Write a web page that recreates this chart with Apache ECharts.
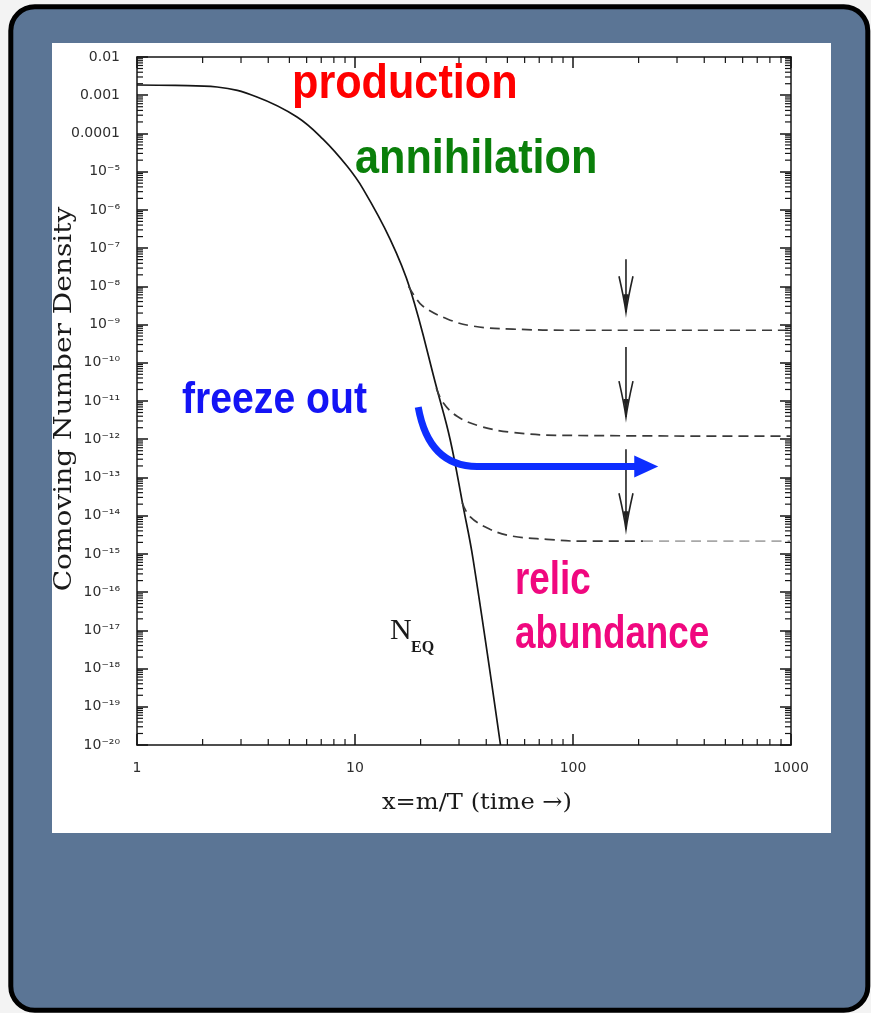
<!DOCTYPE html>
<html>
<head>
<meta charset="utf-8">
<script src="https://cdn.jsdelivr.net/npm/echarts@6.0.0/dist/echarts.min.js"></script>
<style>
  html, body { margin: 0; padding: 0; background: #f3f3f3; }
  #chart { width: 871px; height: 1013px; }
</style>
</head>
<body>
<div id="chart"></div>
<script>
// Equilibrium comoving number density N_EQ versus x = m/T
const eqX = [1, 1.5, 2.33, 3.55, 5.42, 7.13, 9.19, 10.9, 14.5, 17.9, 23.8, 27.3, 31.3, 34.8, 46.5];
const eqY = [1.85e-3, 1.8e-3, 1.64e-3, 9.0e-4, 2.7e-4, 7.1e-5, 1.4e-5, 3.5e-6, 1.7e-7, 8.5e-9, 2.0e-11, 1.0e-12, 1.8e-14, 7.3e-16, 1.0e-20];

// Freeze-out curves (increasing annihilation cross section, top to bottom)
const fo1X = [17.6, 19.0, 20.5, 26.5, 34.8, 53, 100, 1000];
const fo1Y = [1.0e-8, 5.0e-9, 3.0e-9, 1.4e-9, 9.1e-10, 7.6e-10, 7.1e-10, 7.1e-10];
const fo2X = [23.6, 25.3, 29.4, 37.4, 53, 90, 1000];
const fo2Y = [2.2e-11, 9.3e-12, 4.0e-12, 2.2e-12, 1.5e-12, 1.26e-12, 1.2e-12];
const fo3X = [31.0, 33.7, 41.6, 53, 76, 108, 210];
const fo3Y = [2.2e-14, 9.5e-15, 4.4e-15, 2.9e-15, 2.4e-15, 2.15e-15, 2.15e-15];
const fo3TailX = [210, 1000];
const fo3TailY = [2.15e-15, 2.15e-15];

// Downward arrows marking the relic levels
const dropX = [175, 175, 175];
const dropFrom = [5.1e-8, 2.6e-10, 5.5e-13];
const dropTo = [2.1e-9, 3.8e-12, 4.4e-15];

// "freeze out" arrow: start, end of bend, tip
const freezeStart = [19.5, 6.9e-12];
const freezeBend = [36.3, 1.94e-13];
const freezeTip = [246, 1.94e-13];

// Axis ranges and tick labels
const xRange = [1, 1000];
const yRange = [1e-20, 1e-2];
const xTickLabels = ['1', '10', '100', '1000'];
const yTickLabels = ['10⁻²⁰', '10⁻¹⁹', '10⁻¹⁸', '10⁻¹⁷', '10⁻¹⁶', '10⁻¹⁵', '10⁻¹⁴', '10⁻¹³',
  '10⁻¹²', '10⁻¹¹', '10⁻¹⁰', '10⁻⁹', '10⁻⁸', '10⁻⁷', '10⁻⁶', '10⁻⁵', '0.0001', '0.001', '0.01'];
const minorSteps = [2, 3, 4, 5, 6, 7, 8, 9];

const zip = (xs, ys) => xs.map((x, i) => [x, ys[i]]);
const exp10 = v => Math.round(Math.log10(v));

// minor tick positions: kind 0 = on x axes, kind 1 = on y axes
const minorTicks = [];
for (let e = exp10(xRange[0]); e < exp10(xRange[1]); e++) {
  minorSteps.forEach(m => minorTicks.push([m * Math.pow(10, e), yRange[0], 0]));
}
for (let e = exp10(yRange[0]); e < exp10(yRange[1]); e++) {
  minorSteps.forEach(m => minorTicks.push([xRange[0], m * Math.pow(10, e), 1]));
}

const ink = '#151515';
const dashInk = '#3a3a3a';
const tickFont = { fontFamily: 'DejaVu Sans', fontSize: 14, color: '#2e2e2e' };
const slideFont = { fontFamily: 'Liberation Sans', fontWeight: 'bold', align: 'left', verticalAlign: 'middle' };

const chart = echarts.init(document.getElementById('chart'), null, { renderer: 'canvas' });

const baseAxis = {
  type: 'log', logBase: 10, interval: 1,
  axisLine: { show: true, onZero: false, lineStyle: { color: ink, width: 1.5 } },
  axisTick: { show: true, inside: true, length: 11, lineStyle: { color: ink, width: 1.5 } },
  splitLine: { show: false },
  minorTick: { show: false },
  minorSplitLine: { show: false }
};

const smoothLine = (data, lineStyle) => ({
  type: 'line', data, symbol: 'none', smooth: 0.4, silent: true, z: 3, lineStyle
});

const option = {
  animation: false,
  backgroundColor: 'transparent',
  grid: { left: 137, top: 57, width: 654, height: 688, containLabel: false },
  xAxis: [
    Object.assign({}, baseAxis, {
      position: 'bottom', min: xRange[0], max: xRange[1],
      axisLabel: Object.assign({ margin: 16, formatter: v => xTickLabels[exp10(v)] }, tickFont)
    }),
    Object.assign({}, baseAxis, {
      position: 'top', min: xRange[0], max: xRange[1], axisLabel: { show: false }
    })
  ],
  yAxis: [
    Object.assign({}, baseAxis, {
      position: 'left', min: yRange[0], max: yRange[1],
      axisLabel: Object.assign({ margin: 17, formatter: v => yTickLabels[exp10(v) + 20] }, tickFont)
    }),
    Object.assign({}, baseAxis, {
      position: 'right', min: yRange[0], max: yRange[1], axisLabel: { show: false }
    })
  ],
  graphic: [
    { type: 'rect', z: -10, shape: { x: 10.8, y: 6.7, width: 857, height: 1003.5, r: 24 },
      style: { fill: '#5b7595', stroke: '#000', lineWidth: 5 } },
    { type: 'rect', z: -9, shape: { x: 52, y: 43, width: 779, height: 790 }, style: { fill: '#ffffff' } },
    { type: 'text', z: 50, x: 292, y: 85, scaleX: 0.9,
      style: Object.assign({ text: 'production', fontSize: 48, fill: '#ff0000' }, slideFont) },
    { type: 'text', z: 50, x: 355, y: 160, scaleX: 0.9,
      style: Object.assign({ text: 'annihilation', fontSize: 48, fill: '#0a7f0a' }, slideFont) },
    { type: 'text', z: 50, x: 182, y: 401, scaleX: 0.89,
      style: Object.assign({ text: 'freeze out', fontSize: 44, fill: '#1414f5' }, slideFont) },
    { type: 'text', z: 50, x: 515, y: 581, scaleX: 0.8,
      style: Object.assign({ text: 'relic', fontSize: 46, fill: '#f0087f' }, slideFont) },
    { type: 'text', z: 50, x: 515, y: 635, scaleX: 0.8,
      style: Object.assign({ text: 'abundance', fontSize: 46, fill: '#f0087f' }, slideFont) },
    { type: 'text', z: 50, x: 390, y: 631,
      style: { text: 'N', fontFamily: 'Liberation Serif', fontSize: 30, fill: '#1a1a1a', align: 'left', verticalAlign: 'middle' } },
    { type: 'text', z: 50, x: 411, y: 648,
      style: { text: 'EQ', fontFamily: 'Liberation Serif', fontWeight: 'bold', fontSize: 16, fill: '#1a1a1a', align: 'left', verticalAlign: 'middle' } },
    { type: 'text', z: 50, x: 64, y: 399, rotation: Math.PI / 2, scaleX: 1.12,
      style: { text: 'Comoving Number Density', fontFamily: 'DejaVu Serif', fontSize: 25, fill: '#1a1a1a', align: 'center', verticalAlign: 'middle' } },
    { type: 'text', z: 50, x: 477, y: 803, scaleX: 1.05,
      style: { text: 'x=m/T (time →)', fontFamily: 'DejaVu Serif', fontSize: 23, fill: '#1a1a1a', align: 'center', verticalAlign: 'middle' } }
  ],
  series: [
    {
      // minor ticks on all four sides of the frame
      type: 'custom', silent: true, z: 4, clip: false,
      data: minorTicks,
      renderItem: (params, api) => {
        const kind = api.value(2);
        const len = 6;
        const st = { stroke: ink, lineWidth: 1.2 };
        if (kind === 0) {
          const b = api.coord([api.value(0), yRange[0]]);
          const t = api.coord([api.value(0), yRange[1]]);
          return { type: 'group', children: [
            { type: 'line', shape: { x1: b[0], y1: b[1], x2: b[0], y2: b[1] - len }, style: st },
            { type: 'line', shape: { x1: t[0], y1: t[1], x2: t[0], y2: t[1] + len }, style: st }
          ] };
        }
        const l = api.coord([xRange[0], api.value(1)]);
        const r = api.coord([xRange[1], api.value(1)]);
        return { type: 'group', children: [
          { type: 'line', shape: { x1: l[0], y1: l[1], x2: l[0] + len, y2: l[1] }, style: st },
          { type: 'line', shape: { x1: r[0], y1: r[1], x2: r[0] - len, y2: r[1] }, style: st }
        ] };
      }
    },
    smoothLine(zip(eqX, eqY), { color: ink, width: 1.7 }),
    smoothLine(zip(fo1X, fo1Y), { color: dashInk, width: 1.7, type: [10, 6] }),
    smoothLine(zip(fo2X, fo2Y), { color: dashInk, width: 1.7, type: [10, 6] }),
    smoothLine(zip(fo3X, fo3Y), { color: dashInk, width: 1.7, type: [10, 6] }),
    smoothLine(zip(fo3TailX, fo3TailY), { color: '#a8a8a8', width: 1.7, type: [10, 6] }),
    {
      // downward arrows
      type: 'custom', silent: true, z: 5,
      data: dropX.map((x, i) => [x, dropFrom[i], dropTo[i]]),
      renderItem: (params, api) => {
        const a = api.coord([api.value(0), api.value(1)]);
        const b = api.coord([api.value(0), api.value(2)]);
        const x = b[0], y = b[1];
        const st = { stroke: '#222', lineWidth: 1.6, fill: null };
        return { type: 'group', children: [
          { type: 'line', shape: { x1: a[0], y1: a[1], x2: x, y2: y }, style: st },
          { type: 'path', shape: { pathData:
            `M${x - 7} ${y - 36} Q${x - 2} ${y - 14} ${x} ${y} Q${x + 2} ${y - 14} ${x + 7} ${y - 36}` },
            style: st },
          { type: 'polygon', shape: { points: [[x - 2.5, y - 18], [x, y], [x + 2.5, y - 18]] },
            style: { fill: '#222' } }
        ] };
      }
    },
    {
      // freeze-out arrow
      type: 'custom', silent: true, z: 6,
      data: [freezeStart],
      renderItem: (params, api) => {
        const s = api.coord(freezeStart);
        const c = api.coord(freezeBend);
        const t = api.coord(freezeTip);
        const qx = s[0] + 0.18 * (c[0] - s[0]);
        return { type: 'group', children: [
          { type: 'path', shape: { pathData:
            `M${s[0]} ${s[1]} Q${qx} ${c[1]} ${c[0]} ${c[1]} L${t[0] - 22} ${c[1]}` },
            style: { stroke: '#0d2eff', lineWidth: 7, fill: null } },
          { type: 'polygon', shape: { points: [[t[0] - 24, c[1] - 11], [t[0], c[1]], [t[0] - 24, c[1] + 11]] },
            style: { fill: '#0d2eff' } }
        ] };
      }
    }
  ]
};

chart.setOption(option);
</script>
</body>
</html>
